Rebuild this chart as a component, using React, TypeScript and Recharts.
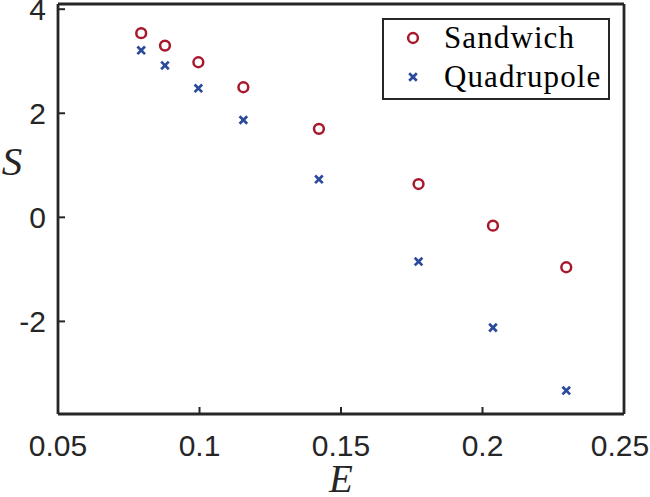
import React from 'react';
import { ScatterChart, Scatter, XAxis, YAxis, Legend } from 'recharts';

const E_VALUES = [0.0794, 0.0878, 0.0996, 0.1155, 0.1422, 0.1774, 0.2037, 0.2296];
const SANDWICH_S = [3.54, 3.3, 2.98, 2.5, 1.7, 0.64, -0.16, -0.96];
const QUADRUPOLE_S = [3.21, 2.92, 2.48, 1.87, 0.73, -0.85, -2.12, -3.33];
const X_TICKS = [0.05, 0.1, 0.15, 0.2, 0.25];
const Y_TICKS = [-2, 0, 2, 4];
const X_DOMAIN = [0.05, 0.25];
const Y_DOMAIN = [-3.78, 4.1];
const SERIES_NAMES = ['Sandwich', 'Quadrupole'];

const RED = '#A8182C';
const BLUE = '#2A4B9C';
const AXIS = '#262626';
const SANS = '"Liberation Sans", Arial, Helvetica, sans-serif';
const SERIF = '"Liberation Serif", "Times New Roman", serif';

const sandwichData = E_VALUES.map((e, i) => ({ e, s: SANDWICH_S[i] }));
const quadrupoleData = E_VALUES.map((e, i) => ({ e, s: QUADRUPOLE_S[i] }));

const TICK_LEN = -7;
const AXIS_LINE = { stroke: AXIS, strokeWidth: 2.8 };
const TICK_LINE = { stroke: AXIS, strokeWidth: 2 };

const BottomTick = (p: any) => {
  const last = p.payload.value === X_TICKS[X_TICKS.length - 1];
  return (
    <text
      x={p.x - (last ? 4 : 0)}
      y={p.y + 49}
      textAnchor="middle"
      fill={AXIS}
      fontSize={30}
      fontFamily={SANS}
    >
      {String(p.payload.value)}
    </text>
  );
};

const LeftTick = (p: any) => (
  <text x={p.x - 19} y={p.y} dy="0.36em" textAnchor="end" fill={AXIS} fontSize={30} fontFamily={SANS}>
    {String(p.payload.value)}
  </text>
);

const CircleMark = (p: any) => (
  <circle cx={p.cx} cy={p.cy} r={4.9} fill="none" stroke={RED} strokeWidth={2.5} />
);

const CrossMark = (p: any) => {
  const s = 3.8;
  return (
    <path
      d={`M${p.cx - s},${p.cy - s}L${p.cx + s},${p.cy + s}M${p.cx - s},${p.cy + s}L${p.cx + s},${p.cy - s}`}
      stroke={BLUE}
      strokeWidth={2.7}
      fill="none"
    />
  );
};

const LegendBox = (props: any) => {
  const payload = [...(props.payload || [])].sort(
    (a: any, b: any) => SERIES_NAMES.indexOf(a.value) - SERIES_NAMES.indexOf(b.value)
  );
  return (
    <svg width={228} height={82} style={{ display: 'block' }}>
      <rect x={1} y={1} width={226} height={80} fill="#fff" stroke={AXIS} strokeWidth={2} />
      {payload.map((entry: any, i: number) => {
        const cy = 20 + i * 39;
        const isCircle = entry.value === SERIES_NAMES[0];
        return (
          <g key={entry.value}>
            {isCircle ? (
              <circle cx={31} cy={cy} r={4.9} fill="none" stroke={RED} strokeWidth={2.5} />
            ) : (
              <path
                d={`M${27.2},${cy - 3.8}L${34.8},${cy + 3.8}M${27.2},${cy + 3.8}L${34.8},${cy - 3.8}`}
                stroke={BLUE}
                strokeWidth={2.7}
              />
            )}
            <text x={62} y={cy + 10} fontSize={31} fontFamily={SERIF} fill="#000" letterSpacing={1.1}>
              {entry.value}
            </text>
          </g>
        );
      })}
    </svg>
  );
};

export default function App() {
  return (
    <div style={{ position: 'absolute', left: 0, top: 0, width: 650, height: 497, background: '#fff' }}>
      <ScatterChart width={650} height={497} margin={{ top: 3, right: 25, bottom: 0, left: 0 }}>
        <XAxis
          xAxisId={0}
          type="number"
          dataKey="e"
          domain={X_DOMAIN}
          ticks={X_TICKS}
          allowDataOverflow
          height={83}
          tickSize={TICK_LEN}
          tickMargin={0}
          tickLine={TICK_LINE}
          axisLine={AXIS_LINE}
          tick={BottomTick}
          interval={0}
          label={(lp: any) => {
            const vb = lp.viewBox || {};
            return (
              <text
                x={vb.x + vb.width / 2}
                y={492}
                textAnchor="middle"
                fontSize={39}
                fontStyle="italic"
                fontFamily={SERIF}
                fill={AXIS}
              >
                E
              </text>
            );
          }}
        />
        <XAxis
          xAxisId="top"
          orientation="top"
          type="number"
          domain={X_DOMAIN}
          ticks={X_TICKS}
          allowDataOverflow
          height={1}
          tickSize={TICK_LEN}
          tickMargin={0}
          tickLine={TICK_LINE}
          axisLine={AXIS_LINE}
          tick={false}
          interval={0}
        />
        <YAxis
          yAxisId={0}
          type="number"
          dataKey="s"
          domain={Y_DOMAIN}
          ticks={Y_TICKS}
          allowDataOverflow
          width={58}
          tickSize={TICK_LEN}
          tickMargin={0}
          tickLine={TICK_LINE}
          axisLine={AXIS_LINE}
          tick={LeftTick}
          interval={0}
          label={(lp: any) => {
            const vb = lp.viewBox || {};
            return (
              <text
                x={(vb.x || 0) + 12}
                y={175}
                textAnchor="middle"
                fontSize={41}
                fontStyle="italic"
                fontFamily={SERIF}
                fill={AXIS}
              >
                S
              </text>
            );
          }}
        />
        <YAxis
          yAxisId="right"
          orientation="right"
          type="number"
          domain={Y_DOMAIN}
          ticks={Y_TICKS}
          allowDataOverflow
          width={1}
          tickSize={TICK_LEN}
          tickMargin={0}
          tickLine={TICK_LINE}
          axisLine={AXIS_LINE}
          tick={false}
          interval={0}
        />
        <Legend
          layout="vertical"
          align="center"
          verticalAlign="middle"
          content={LegendBox}
          wrapperStyle={{ position: 'absolute', left: 382, top: 18, width: 228, height: 82 }}
        />
        <Scatter
          name={SERIES_NAMES[0]}
          data={sandwichData}
          xAxisId={0}
          yAxisId={0}
          fill={RED}
          shape={CircleMark}
          isAnimationActive={false}
        />
        <Scatter
          name={SERIES_NAMES[1]}
          data={quadrupoleData}
          xAxisId={0}
          yAxisId={0}
          fill={BLUE}
          shape={CrossMark}
          isAnimationActive={false}
        />
      </ScatterChart>
    </div>
  );
}
